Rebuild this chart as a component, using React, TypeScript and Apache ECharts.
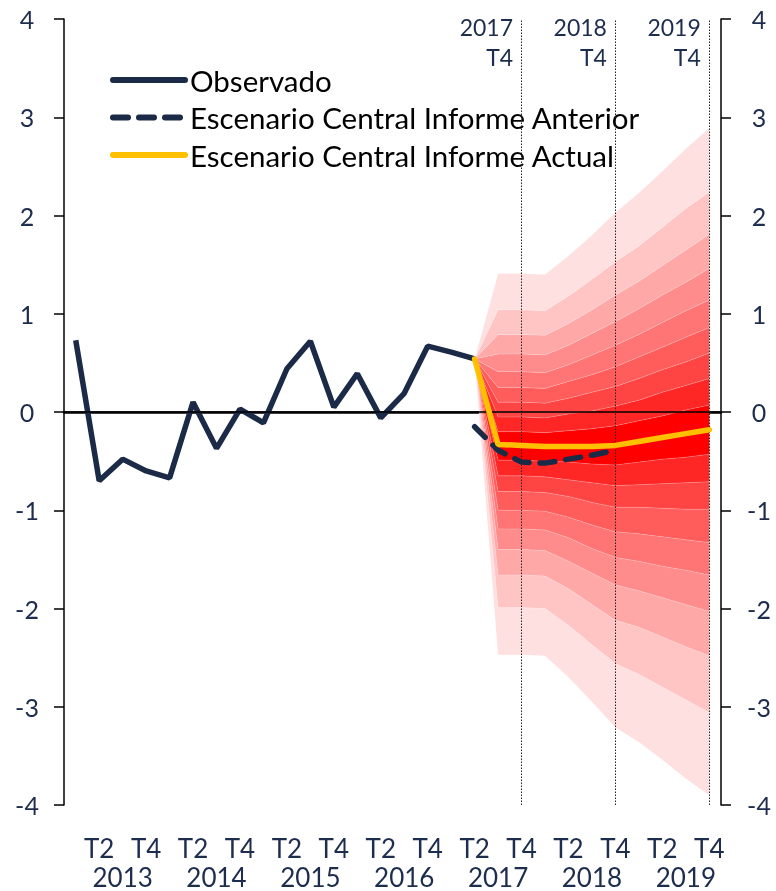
import React, { useEffect, useRef } from "react";
import * as echarts from "echarts";

const years = ["2013", "2014", "2015", "2016", "2017", "2018", "2019"];
const quarterNames = ["T1", "T2", "T3", "T4"];
const categories: string[] = [];
years.forEach((y) => quarterNames.forEach((q) => categories.push(`${y} ${q}`)));

// Observed series 2013 T1 .. 2017 T2
const observado = [0.73, -0.70, -0.48, -0.60, -0.67, 0.10, -0.37, 0.03, -0.11, 0.44, 0.72, 0.05, 0.39, -0.06, 0.19, 0.67, 0.61, 0.54];
// Previous report central scenario 2017 T2 .. 2018 T4
const anterior = [-0.15, -0.39, -0.51, -0.52, -0.48, -0.44, -0.39];
// Current report central scenario 2017 T2 .. 2019 T4
const actual = [0.54, -0.33, -0.34, -0.35, -0.35, -0.35, -0.34, -0.30, -0.26, -0.22, -0.18];

// Fan chart band edges, 2017 T2 .. 2019 T4 (lowest to highest)
const edgeL9 = [0.54, -2.47, -2.47, -2.48, -2.70, -2.95, -3.21, -3.36, -3.54, -3.73, -3.90];
const edgeL8 = [0.54, -1.99, -1.99, -2.00, -2.17, -2.37, -2.56, -2.67, -2.80, -2.93, -3.06];
const edgeL7 = [0.54, -1.66, -1.66, -1.67, -1.80, -1.96, -2.12, -2.19, -2.29, -2.39, -2.48];
const edgeL6 = [0.54, -1.40, -1.40, -1.41, -1.52, -1.64, -1.76, -1.82, -1.89, -1.96, -2.03];
const edgeL5 = [0.54, -1.19, -1.19, -1.20, -1.28, -1.39, -1.48, -1.52, -1.57, -1.61, -1.66];
const edgeL4 = [0.54, -1.00, -1.00, -1.01, -1.07, -1.15, -1.22, -1.24, -1.27, -1.30, -1.33];
const edgeL3 = [0.54, -0.81, -0.81, -0.82, -0.86, -0.92, -0.97, -0.97, -0.98, -0.99, -0.99];
const edgeL2 = [0.54, -0.65, -0.65, -0.66, -0.69, -0.72, -0.75, -0.74, -0.73, -0.72, -0.71];
const edgeL1 = [0.54, -0.49, -0.49, -0.50, -0.51, -0.53, -0.54, -0.51, -0.48, -0.46, -0.43];
const edgeU1 = [0.54, -0.20, -0.20, -0.21, -0.19, -0.17, -0.14, -0.09, -0.04, 0.02, 0.07];
const edgeU2 = [0.54, -0.05, -0.05, -0.06, -0.02, 0.01, 0.06, 0.12, 0.20, 0.27, 0.34];
const edgeU3 = [0.54, 0.10, 0.10, 0.09, 0.14, 0.20, 0.26, 0.34, 0.43, 0.51, 0.60];
const edgeU4 = [0.54, 0.25, 0.25, 0.24, 0.31, 0.38, 0.46, 0.56, 0.66, 0.76, 0.86];
const edgeU5 = [0.54, 0.41, 0.41, 0.40, 0.48, 0.58, 0.68, 0.79, 0.91, 1.03, 1.14];
const edgeU6 = [0.54, 0.59, 0.59, 0.58, 0.68, 0.80, 0.92, 1.05, 1.19, 1.32, 1.46];
const edgeU7 = [0.54, 0.79, 0.79, 0.78, 0.90, 1.04, 1.19, 1.33, 1.49, 1.65, 1.81];
const edgeU8 = [0.54, 1.04, 1.04, 1.03, 1.18, 1.35, 1.53, 1.69, 1.88, 2.07, 2.24];
const edgeU9 = [0.54, 1.41, 1.41, 1.40, 1.59, 1.80, 2.03, 2.23, 2.45, 2.68, 2.89];

const fanEdges = [edgeL9, edgeL8, edgeL7, edgeL6, edgeL5, edgeL4, edgeL3, edgeL2, edgeL1, edgeU1, edgeU2, edgeU3, edgeU4, edgeU5, edgeU6, edgeU7, edgeU8, edgeU9];
const bandLevels = [1, 2, 3, 4, 5, 6, 7, 8, 9, 8, 7, 6, 5, 4, 3, 2, 1];
const levelColors = ["#FFE0E0", "#FFC4C4", "#FFA8A8", "#FF8C8C", "#FF7474", "#FF5C5C", "#FF4444", "#FF2626", "#FF0000"];

const markerQuarters = ["2017 T4", "2018 T4", "2019 T4"];
const markerLabels = ["2017\nT4", "2018\nT4", "2019\nT4"];

const NAVY = "#1B2A47";
const TEXT = "#1D2D4D";
const FONT = "Lato, 'Noto Sans', sans-serif";

function pad(values: number[], start: number): (number | null)[] {
  const out: (number | null)[] = categories.map(() => null);
  values.forEach((v, i) => (out[start + i] = v));
  return out;
}

export default function App() {
  const ref = useRef<HTMLDivElement>(null);
  useEffect(() => {
    if (!ref.current) return;
    const chart = echarts.init(ref.current, null, { renderer: "svg" });
    const fanStart = 17;
    const fanSeries: any[] = [];
    fanSeries.push({
      name: "fanBase",
      type: "line",
      stack: "fan",
      stackStrategy: "all",
      data: pad(fanEdges[0], fanStart),
      symbol: "none",
      lineStyle: { width: 0, opacity: 0 },
      silent: true,
      z: 1,
    });
    for (let k = 1; k < fanEdges.length; k++) {
      const diff = fanEdges[k].map((v, i) => +(v - fanEdges[k - 1][i]).toFixed(4));
      fanSeries.push({
        name: "band" + k,
        type: "line",
        stack: "fan",
        stackStrategy: "all",
        data: pad(diff, fanStart),
        symbol: "none",
        lineStyle: { width: 0.6, color: "rgba(255,255,255,0.35)" },
        areaStyle: { color: levelColors[bandLevels[k - 1] - 1], opacity: 1 },
        silent: true,
        z: 1,
      });
    }

    const yAxisBase = {
      type: "value",
      min: -4,
      max: 4,
      interval: 1,
      axisLine: { show: true, lineStyle: { color: "#000", width: 1.5 } },
      axisTick: { show: true, length: 10, lineStyle: { color: "#000", width: 1.5 } },
      splitLine: { show: false },
    };
    const yLabel = { color: TEXT, fontSize: 25, fontFamily: FONT, align: "center" };

    chart.setOption({
      animation: false,
      grid: { left: 64, right: 55, top: 19, bottom: 86, containLabel: false },
      legend: {
        show: true,
        orient: "vertical",
        left: 110,
        top: 65,
        padding: 0,
        itemWidth: 72,
        itemHeight: 14,
        itemGap: 7.5,
        selectedMode: false,
        itemStyle: { opacity: 0 },
        lineStyle: { width: 6, cap: "round" },
        data: ["Observado", "Escenario Central Informe Anterior", "Escenario Central Informe Actual"],
        textStyle: { fontSize: 29.5, fontFamily: FONT, color: "#000", lineHeight: 30 },
      },
      xAxis: {
        type: "category",
        data: categories,
        boundaryGap: true,
        axisLine: { show: true, lineStyle: { color: "#000", width: 2.5 } },
        axisTick: { show: false },
        axisLabel: {
          interval: 0,
          color: TEXT,
          fontSize: 26,
          fontFamily: FONT,
          margin: 28,
          lineHeight: 29,
          formatter: (_v: string, idx: number) => {
            const q = idx % 4;
            if (q === 1) return "T2";
            if (q === 3) return "T4";
            if (q === 2) return "\n" + years[Math.floor(idx / 4)];
            return "";
          },
        },
      },
      yAxis: [
        { ...yAxisBase, position: "left", axisLabel: { ...yLabel, margin: 37 } },
        { ...yAxisBase, position: "right", axisLabel: { ...yLabel, margin: 38 } },
      ],
      series: [
        ...fanSeries,
        {
          name: "Observado",
          type: "line",
          data: pad(observado, 0),
          symbol: "none",
          lineStyle: { color: NAVY, width: 5.5 },
          itemStyle: { color: NAVY },
          z: 3,
          markLine: {
            silent: true,
            symbol: ["none", "none"],
            label: { show: false },
            data: [
              { yAxis: 0, lineStyle: { color: "#000", width: 1.6, type: "solid" } },
              ...markerQuarters.map((q) => ({ xAxis: q, lineStyle: { color: "#222", width: 1, type: [1.5, 1.5] } })),
            ],
          },
          markPoint: {
            silent: true,
            symbol: "rect",
            symbolSize: 1,
            itemStyle: { color: "rgba(0,0,0,0)" },
            data: markerQuarters.map((q, i) => ({
              coord: [q, 4],
              label: {
                show: true,
                formatter: markerLabels[i],
                position: [-8, -7],
                align: "right",
                verticalAlign: "top",
                color: TEXT,
                fontSize: 23,
                fontFamily: FONT,
                lineHeight: 30,
              },
            })),
          },
        },
        {
          name: "Escenario Central Informe Anterior",
          type: "line",
          data: pad(anterior, 17),
          symbol: "none",
          lineStyle: { color: NAVY, width: 5.5, type: [15, 11], cap: "round" },
          itemStyle: { color: NAVY },
          z: 4,
        },
        {
          name: "Escenario Central Informe Actual",
          type: "line",
          data: pad(actual, 17),
          symbol: "none",
          lineStyle: { color: "#FFC000", width: 5.5, cap: "round" },
          itemStyle: { color: "#FFC000" },
          z: 5,
        },
      ],
    });
    return () => chart.dispose();
  }, []);
  return <div ref={ref} style={{ position: "fixed", left: 0, top: 0, width: 776, height: 891 }} />;
}
